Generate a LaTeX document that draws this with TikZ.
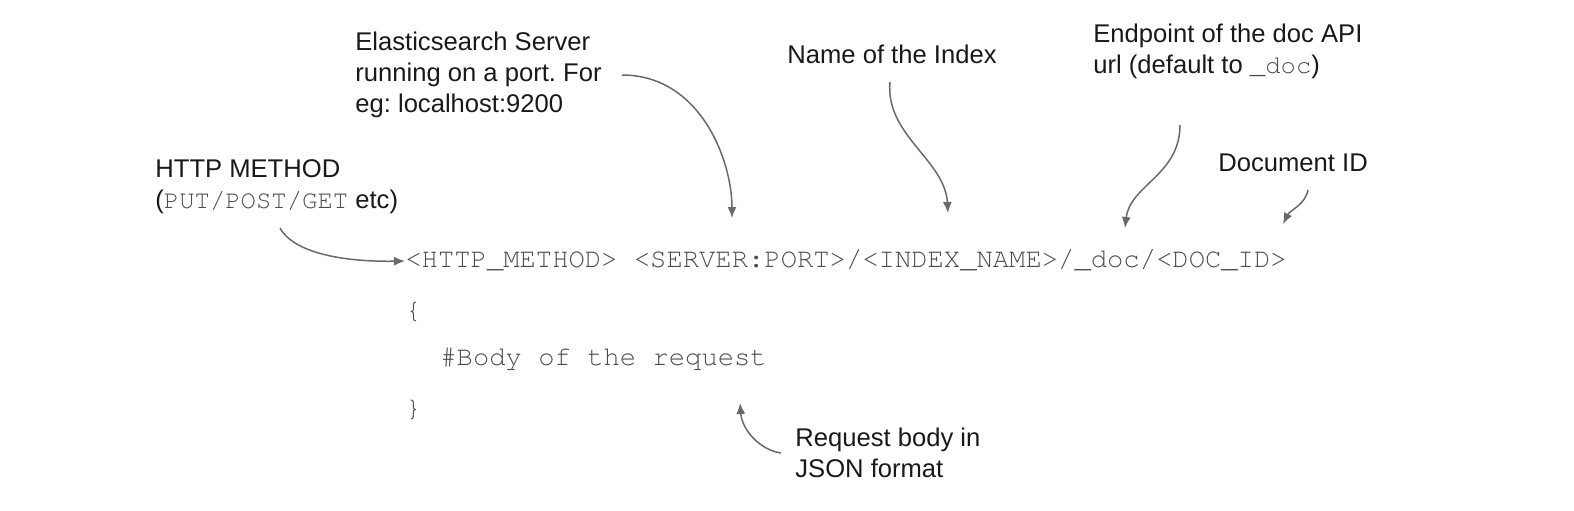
\documentclass[tikz,border=0pt]{standalone}
\usepackage{fontspec}
\setmainfont{Liberation Sans}
\setmonofont{Liberation Mono}
\usetikzlibrary{arrows.meta, positioning}
\definecolor{codegray}{RGB}{75,75,75}
\definecolor{notegray}{RGB}{105,105,105}
\definecolor{labelblack}{RGB}{25,25,25}
\newcommand{\courierfont}{\fontencoding{T1}\fontfamily{pcr}\selectfont}
\newcommand{\cd}[1]{{\courierfont\color{codegray}#1}}
\frenchspacing

\begin{document}
\begin{tikzpicture}[x=0.5pt, y=-0.5pt,
    label/.style={anchor=west, inner sep=0pt, align=left, text=labelblack,
        font=\fontsize{12.8}{15.5}\selectfont},
    codeline/.style={anchor=west, inner sep=0pt, text=codegray,
        font=\fontsize{13.6}{16}\selectfont\courierfont},
    note/.style={draw=notegray, line width=0.75pt, -{Latex[length=5.5pt,width=4.5pt]}}]
    \useasboundingbox (0,0) rectangle (1574,510);

    % Lignes du code de la requete
    \node[codeline] (req) at (405,261) {<HTTP\_METHOD> <SERVER:PORT>/<INDEX\_NAME>/\_doc/<DOC\_ID>};
    \node[codeline] (open) at (405,311) {\{};
    \node[codeline] (body) at (440,359) {\#Body of the request};
    \node[codeline] (close) at (405,409) {\}};

    % Les annotations
    \node[label] (meth) at (155,187) {HTTP METHOD\\(\cd{PUT/POST/GET} etc)};
    \node[label] (srv) at (355,75) {Elasticsearch Server\\running on a port. For\\eg: localhost:9200};
    \node[label] (idx) at (787,54) {Name of the Index};
    \node[label] (endp) at (1093,51) {Endpoint of the doc API\\url (default to \cd{\_doc})};
    \node[label] (docid) at (1218,163) {Document ID};
    \node[label] (json) at (795,453) {Request body in\\JSON format};

    % Points d'arrivee des fleches
    \coordinate (methtail) at (280,228);
    \coordinate (srvtip) at (732,218);
    \coordinate (idxtail) at (890,82);
    \coordinate (idxtip) at (948,213);
    \coordinate (endptail) at (1180,125);
    \coordinate (endptip) at (1125,228);
    \coordinate (docidtail) at (1308,190);
    \coordinate (docidtip) at (1283,224);
    \coordinate (bodytip) at (740,403);

    % Les fleches
    \draw[note] (methtail) .. controls (295,255) and (350,262) .. (req.west);
    \draw[note] ([xshift=10pt]srv.east) .. controls (700,75) and (732,160) .. (srvtip);
    \draw[note] (idxtail) .. controls (885,135) and (945,160) .. (idxtip);
    \draw[note] (endptail) .. controls (1180,175) and (1130,185) .. (endptip);
    \draw[note] (docidtail) .. controls (1305,205) and (1290,210) .. (docidtip);
    \draw[note] ([xshift=-7pt]json.west) .. controls (760,450) and (742,430) .. (bodytip);
\end{tikzpicture}
\end{document}
